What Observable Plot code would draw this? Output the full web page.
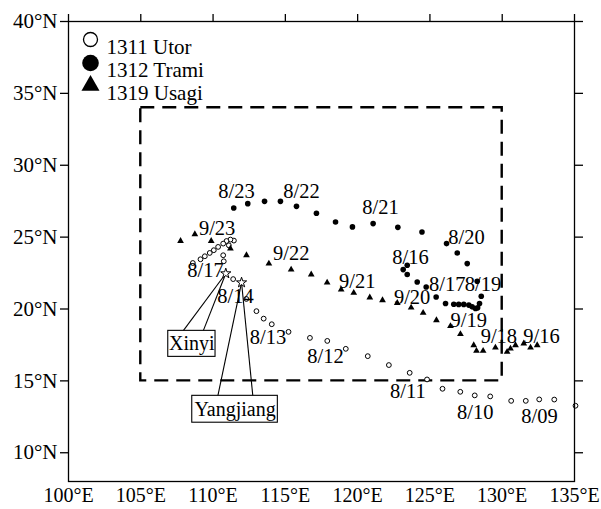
<!DOCTYPE html>
<html>
<head>
<meta charset="utf-8">
<script src="https://cdn.jsdelivr.net/npm/d3@7"></script>
<script src="https://cdn.jsdelivr.net/npm/@observablehq/plot@0.6"></script>
<style>
  html, body { margin: 0; padding: 0; background: white; }
</style>
</head>
<body>
<div id="chart"></div>
<script>
// ---- Data ----
const xTicks = [100, 105, 110, 115, 120, 125, 130, 135];
const yTicks = [10, 15, 20, 25, 30, 35, 40];

// 1311 Utor (open circles) [lon, lat]
const utor = [
  [135.07,13.27],[133.6,13.7],[132.56,13.71],[131.63,13.61],[130.62,13.61],
  [129.17,13.92],[128.1,13.99],[127.1,14.24],[125.87,14.45],[124.8,15.1],
  [123.6,15.56],[122.16,16.1],[120.7,16.72],[119.18,17.23],[117.9,17.78],
  [116.7,17.99],[115.22,18.41],[114.06,18.94],[113.5,19.33],[113.0,19.85],
  [112.3,20.7],[111.39,22.08],[110.74,23.32],[110.7,23.74],[111.09,24.43],
  [111.44,24.76],[111.2,24.83],[110.93,24.73],[110.7,24.55],[110.35,24.32],
  [110.05,24.09],[109.77,23.9],[109.43,23.67],[109.13,23.46],[108.6,23.2]
];

// 1312 Trami (filled circles) [lon, lat]
const trami = [
  [123.15,22.74],[123.43,23.04],[123.43,22.4],[124.12,21.88],[124.74,21.53],
  [125.43,20.84],[126.08,20.38],[126.65,20.33],[126.99,20.32],[127.34,20.32],
  [127.69,20.27],[127.92,20.15],[128.15,20.04],[128.3,20.08],[128.43,20.38],
  [128.55,20.89],[128.27,21.93],[127.58,23.16],[126.89,23.9],[126.15,24.55],
  [124.45,25.36],[122.78,25.68],[121.07,25.94],[119.64,25.71],[118.47,26.05],
  [117.15,26.66],[115.77,27.14],[114.66,27.49],[113.56,27.49],[112.4,27.33],
  [111.43,27.03]
];

// 1319 Usagi (triangles) [lon, lat]
const usagi = [
  [132.42,17.48],[131.96,17.32],[131.49,17.6],[130.92,17.48],[130.57,17.25],
  [130.34,17.02],[129.53,17.32],[128.68,17.09],[128.22,17.09],[128.03,17.48],
  [127.11,18.25],[126.42,18.81],[125.45,19.22],[124.53,19.73],[123.7,20.1],
  [122.74,20.42],[121.72,20.61],[120.84,20.8],[119.73,21.12],[118.86,21.35],
  [117.89,21.84],[116.79,22.4],[115.4,22.74],[113.86,23.16],[112.31,23.74],
  [111.2,24.2],[109.87,24.73],[108.74,25.2],[107.75,24.73]
];

// Date labels [text, lon, lat]
const dateLabels = [
  ["8/23",111.62,28.21],["8/22",116.12,28.19],["8/21",121.58,27.04],["8/20",127.53,25.01],
  ["8/16",123.66,23.62],["8/17",126.2,21.74],["8/19",128.67,21.74],
  ["9/23",110.28,25.63],["9/22",115.41,23.86],["9/21",119.97,21.95],["9/20",123.77,20.79],
  ["9/19",127.69,19.17],["9/18",129.77,18.12],["9/16",132.72,18.12],
  ["8/17",109.48,22.67],["8/14",111.55,20.84],["8/13",113.8,18.0],["8/12",117.78,16.67],
  ["8/11",123.48,14.3],["8/10",128.13,12.8],["8/09",132.58,12.56]
];

// Stations (stars) and their callout boxes
const stations = [
  {name: "Xinyi",     lon: 110.88, lat: 22.47, bx1: 106.9,  bx2: 110.17, by1: 16.67, by2: 18.48, ax1: 107.93, ax2: 109.32},
  {name: "Yangjiang", lon: 111.97, lat: 21.84, bx1: 108.56, bx2: 114.48, by1: 12.09, by2: 13.96, ax1: 110.33, ax2: 112.75}
];

// Study region (dashed box)
const region = [{lon1: 105, lon2: 130, lat1: 15, lat2: 34}];

// Legend
const legendNames = ["1311 Utor", "1312 Trami", "1319 Usagi"];

// ---- Build ----
const font = "'Liberation Serif', 'Times New Roman', Times, serif";
const calloutLinks = stations.flatMap(s => [
  {x1: s.lon, y1: s.lat, x2: s.ax1, y2: s.by2},
  {x1: s.lon, y1: s.lat, x2: s.ax2, y2: s.by2}
]);

const legendMarks = [
  Plot.dot([0], {frameAnchor: "top-left", dx: 22, dy: 18, r: 7, fill: "white", stroke: "black", strokeWidth: 1.3}),
  Plot.dot([0], {frameAnchor: "top-left", dx: 22, dy: 41.5, r: 8.3, fill: "black"}),
  Plot.dot([0], {frameAnchor: "top-left", dx: 22, dy: 64, r: 6.7, symbol: "triangle", fill: "black"}),
  ...legendNames.map((n, i) => Plot.text([n], {
    frameAnchor: "top-left", dx: 38, dy: 18 + i * 23, text: d => d,
    textAnchor: "start", fontSize: 21, fill: "black"
  }))
];

const chart = Plot.plot({
  width: 601,
  height: 509,
  marginTop: 21,
  marginRight: 27,
  marginBottom: 28,
  marginLeft: 68,
  x: {domain: [100, 135]},
  y: {domain: [8, 40]},
  style: {fontFamily: font, fontSize: "21px", color: "black", background: "white"},
  marks: [
    Plot.rect(region, {x1: "lon1", x2: "lon2", y1: "lat1", y2: "lat2", fill: "none", stroke: "black", strokeWidth: 2.4, strokeDasharray: "14,8"}),
    Plot.dot(utor, {x: d => d[0], y: d => d[1], r: 2.4, fill: "white", stroke: "black", strokeWidth: 1}),
    Plot.dot(trami, {x: d => d[0], y: d => d[1], r: 2.8, fill: "black"}),
    Plot.dot(usagi, {x: d => d[0], y: d => d[1], r: 2.5, symbol: "triangle", fill: "black"}),
    Plot.text(dateLabels, {x: d => d[1], y: d => d[2], text: d => d[0], fontSize: 20.5, fill: "black"}),
    Plot.link(calloutLinks, {x1: "x1", y1: "y1", x2: "x2", y2: "y2", stroke: "black", strokeWidth: 1.1}),
    Plot.rect(stations, {x1: "bx1", x2: "bx2", y1: "by1", y2: "by2", fill: "white", stroke: "black", strokeWidth: 1.1}),
    Plot.text(stations, {x: d => (d.bx1 + d.bx2) / 2, y: d => (d.by1 + d.by2) / 2, text: "name", fontSize: 20, fill: "black"}),
    Plot.dot(stations, {x: "lon", y: "lat", symbol: "star", r: 3.2, fill: "white", stroke: "black", strokeWidth: 1}),
    ...legendMarks,
    Plot.axisX(xTicks, {anchor: "bottom", tickSize: 0, tickPadding: 6, tickFormat: d => d + "\u00B0E", label: null, fontSize: 20, strokeWidth: 1.3}),
    Plot.axisX(xTicks, {anchor: "top", tickSize: 8, tickFormat: () => "", label: null, strokeWidth: 1.3}),
    Plot.axisY(yTicks, {anchor: "left", tickSize: 8, tickPadding: 3, tickFormat: d => d + "\u00B0N", label: null, strokeWidth: 1.3}),
    Plot.axisY(yTicks, {anchor: "right", tickSize: 8, tickFormat: () => "", label: null, strokeWidth: 1.3}),
    Plot.frame({stroke: "black", strokeWidth: 1.3})
  ]
});
document.getElementById("chart").appendChild(chart);
</script>
</body>
</html>
